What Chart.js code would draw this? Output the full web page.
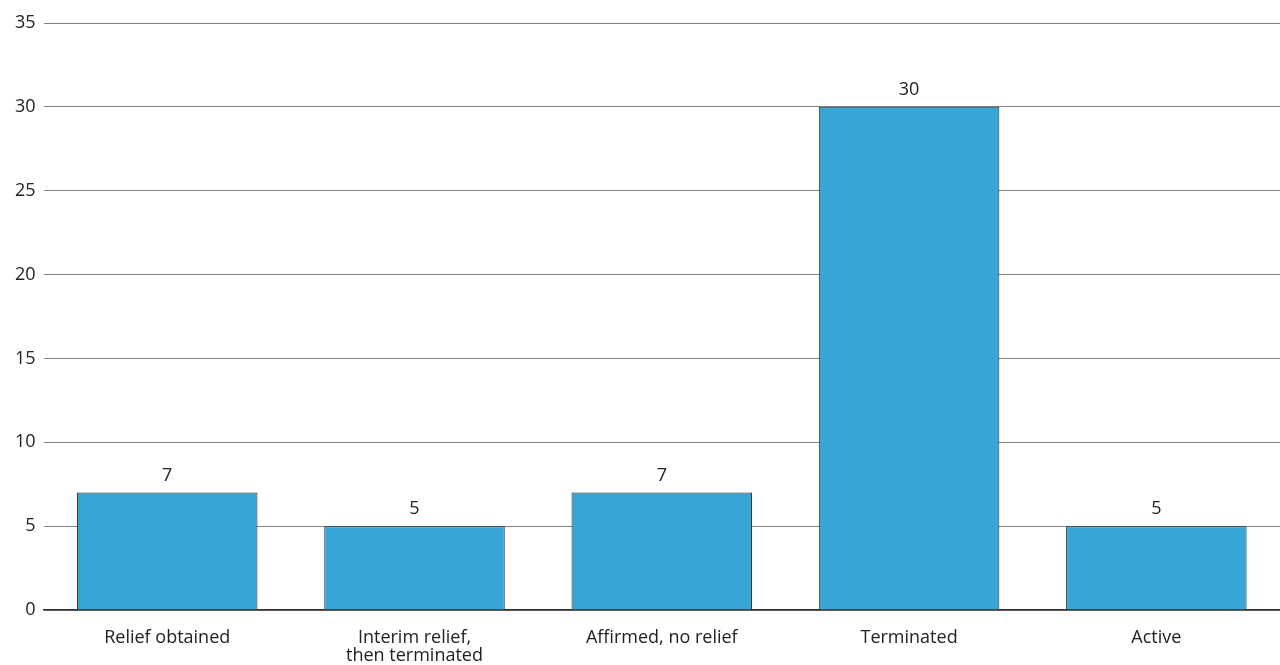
<!DOCTYPE html>
<html>
<head>
<meta charset="utf-8">
<script src="https://cdn.jsdelivr.net/npm/chart.js@4/dist/chart.umd.min.js"></script>
<style>
  html, body { margin: 0; padding: 0; background: #ffffff; }
  #wrap { width: 1280px; height: 665px; }
</style>
</head>
<body>
<div id="wrap"><canvas id="chart" width="1280" height="665"></canvas></div>
<script>
// Case outcomes
const categories = [
  "Relief obtained",
  ["Interim relief,", "then terminated"],
  "Affirmed, no relief",
  "Terminated",
  "Active"
];
const counts = [7, 5, 7, 30, 5];
const yTicks = [0, 5, 10, 15, 20, 25, 30, 35];

const FONT = "'Open Sans', 'Noto Sans', sans-serif";

// Writes each bar's value just above it
const valueLabels = {
  id: 'valueLabels',
  afterDatasetsDraw(chart) {
    const ctx = chart.ctx;
    const meta = chart.getDatasetMeta(0);
    ctx.save();
    ctx.font = "18px " + FONT;
    ctx.fillStyle = '#222222';
    ctx.textAlign = 'center';
    ctx.textBaseline = 'middle';
    meta.data.forEach((bar, i) => {
      ctx.fillText(String(counts[i]), bar.x, bar.y - 17);
    });
    ctx.restore();
  }
};

new Chart(document.getElementById('chart'), {
  type: 'bar',
  data: {
    labels: categories,
    datasets: [{
      data: counts,
      backgroundColor: '#37a6d6',
      borderColor: '#2b2b2b',
      borderWidth: 1,
      barPercentage: 0.73,
      categoryPercentage: 1.0
    }]
  },
  options: {
    responsive: false,
    animation: false,
    layout: { padding: { top: 23, right: 0, left: 7, bottom: 0 } },
    plugins: {
      legend: { display: false },
      tooltip: { enabled: false }
    },
    scales: {
      x: {
        grid: { display: false, drawTicks: false },
        border: { display: true, color: '#333333', width: 1.5 },
        ticks: {
          color: '#222222',
          font: { family: FONT, size: 18, lineHeight: 1.05 },
          padding: 18,
          maxRotation: 0,
          autoSkip: false
        },
        afterFit(scale) {
          scale.height = 55;
        }
      },
      y: {
        min: 0,
        max: 35,
        afterBuildTicks(axis) {
          axis.ticks = yTicks.map(v => ({ value: v }));
        },
        grid: { color: '#808080', lineWidth: 1, drawTicks: false },
        border: { display: false },
        ticks: {
          color: '#222222',
          font: { family: FONT, size: 18 },
          padding: 8
        }
      }
    }
  },
  plugins: [valueLabels]
});
</script>
</body>
</html>
